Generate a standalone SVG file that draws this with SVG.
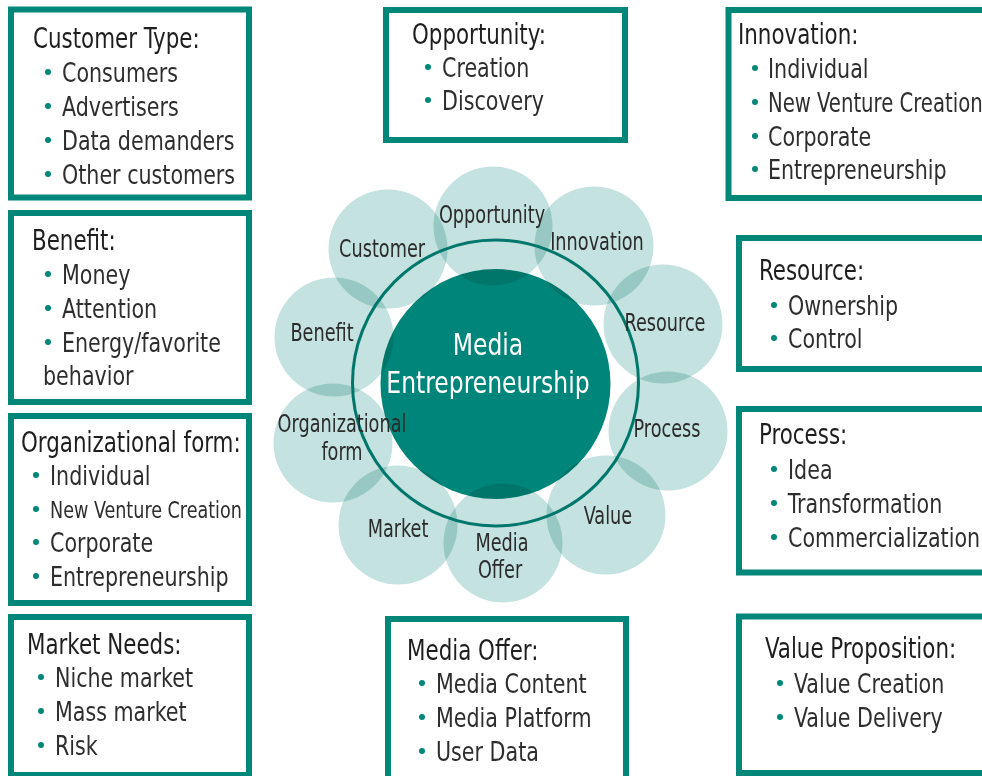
<svg xmlns="http://www.w3.org/2000/svg" width="982" height="776" viewBox="0 0 982 776">
<style>
.box{fill:#fff;stroke:#00877a;stroke-width:6}
.t{font-family:"Liberation Sans Narrow","DejaVu Sans Condensed","Liberation Sans",sans-serif;font-stretch:condensed;fill:#262626;transform-box:fill-box;transform-origin:left center;transform:scaleX(.85)}
.h{font-size:28px;fill:#1e1e1e}
.i{font-size:27px;fill:#2e2e2e}
.s{font-size:23px;fill:#2e2e2e}
.n{transform:scaleX(.81)}
.b{fill:#00877a}
.c{fill:#c4e2df;mix-blend-mode:multiply}
.cl{font-size:24px;fill:#2b2b2b;text-anchor:middle;transform-origin:center;transform:scaleX(.82)}
.ce{font-size:30px;fill:#fff;text-anchor:middle;transform-origin:center;transform:scaleX(.87)}
</style>
<rect width="982" height="776" fill="#fff"/>

<g id="box-customer-type">
<rect class="box" x="11" y="9.5" width="238" height="188"/>
<text class="t h" x="33" y="48">Customer Type:</text>
<circle class="b" cx="48" cy="72" r="3"/><text class="t i" x="62" y="82">Consumers</text>
<circle class="b" cx="48" cy="106" r="3"/><text class="t i" x="62" y="116">Advertisers</text>
<circle class="b" cx="48" cy="140" r="3"/><text class="t i" x="62" y="150">Data demanders</text>
<circle class="b" cx="48" cy="174" r="3"/><text class="t i" x="62" y="184">Other customers</text>
</g>

<g id="box-benefit">
<rect class="box" x="11" y="213" width="238" height="189"/>
<text class="t h" x="32" y="250">Benefit:</text>
<circle class="b" cx="48" cy="274" r="3"/><text class="t i" x="62" y="284">Money</text>
<circle class="b" cx="48" cy="308" r="3"/><text class="t i" x="62" y="318">Attention</text>
<circle class="b" cx="48" cy="342" r="3"/><text class="t i" x="62" y="352">Energy/favorite</text>
<text class="t i" x="43" y="385">behavior</text>
</g>

<g id="box-organizational-form">
<rect class="box" x="11" y="416" width="238" height="187"/>
<text class="t h" x="21" y="452">Organizational form:</text>
<circle class="b" cx="36" cy="475" r="3"/><text class="t i" x="50" y="485">Individual</text>
<circle class="b" cx="36" cy="509" r="3"/><text class="t s" x="50" y="518">New Venture Creation</text>
<circle class="b" cx="36" cy="542" r="3"/><text class="t i" x="50" y="552">Corporate</text>
<circle class="b" cx="36" cy="576" r="3"/><text class="t i" x="50" y="586">Entrepreneurship</text>
</g>

<g id="box-market-needs">
<rect class="box" x="11" y="617" width="238" height="158"/>
<text class="t h" x="27" y="654">Market Needs:</text>
<circle class="b" cx="41" cy="677" r="3"/><text class="t i" x="55" y="687">Niche market</text>
<circle class="b" cx="41" cy="711" r="3"/><text class="t i" x="55" y="721">Mass market</text>
<circle class="b" cx="41" cy="745" r="3"/><text class="t i" x="55" y="755">Risk</text>
</g>

<g id="box-opportunity">
<rect class="box" x="386" y="10" width="239" height="130"/>
<text class="t h" x="412" y="44">Opportunity:</text>
<circle class="b" cx="428" cy="67" r="3"/><text class="t i" x="442" y="77">Creation</text>
<circle class="b" cx="428" cy="100" r="3"/><text class="t i" x="442" y="110">Discovery</text>
</g>

<g id="box-innovation">
<rect class="box" x="728.5" y="10" width="270" height="188"/>
<text class="t h" x="738" y="44">Innovation:</text>
<circle class="b" cx="755" cy="68" r="3"/><text class="t i" x="768" y="78">Individual</text>
<circle class="b" cx="755" cy="102" r="3"/><text class="t i n" x="768" y="112">New Venture Creation</text>
<circle class="b" cx="755" cy="136" r="3"/><text class="t i" x="768" y="146">Corporate</text>
<circle class="b" cx="755" cy="169" r="3"/><text class="t i" x="768" y="179">Entrepreneurship</text>
</g>

<g id="box-resource">
<rect class="box" x="739" y="238" width="260" height="131"/>
<text class="t h" x="759" y="280">Resource:</text>
<circle class="b" cx="774" cy="305" r="3"/><text class="t i" x="788" y="315">Ownership</text>
<circle class="b" cx="774" cy="338" r="3"/><text class="t i" x="788" y="348">Control</text>
</g>

<g id="box-process">
<rect class="box" x="739" y="409" width="260" height="163.5"/>
<text class="t h" x="759" y="444">Process:</text>
<circle class="b" cx="774" cy="469" r="3"/><text class="t i" x="788" y="479">Idea</text>
<circle class="b" cx="774" cy="503" r="3"/><text class="t i" x="788" y="513">Transformation</text>
<circle class="b" cx="774" cy="537" r="3"/><text class="t i" x="788" y="547">Commercialization</text>
</g>

<g id="box-value-proposition">
<rect class="box" x="739" y="616.5" width="260" height="156.5"/>
<text class="t h" x="765" y="658">Value Proposition:</text>
<circle class="b" cx="780" cy="683" r="3"/><text class="t i" x="794" y="693">Value Creation</text>
<circle class="b" cx="780" cy="717" r="3"/><text class="t i" x="794" y="727">Value Delivery</text>
</g>

<g id="box-media-offer">
<rect class="box" x="388" y="619" width="238" height="170"/>
<text class="t h" x="407" y="660">Media Offer:</text>
<circle class="b" cx="422" cy="683" r="3"/><text class="t i" x="436" y="693">Media Content</text>
<circle class="b" cx="422" cy="717" r="3"/><text class="t i" x="436" y="727">Media Platform</text>
<circle class="b" cx="422" cy="751" r="3"/><text class="t i" x="436" y="761">User Data</text>
</g>

<g id="center-media-entrepreneurship">
<circle cx="495.5" cy="384" r="115" fill="#00857a"/>
</g>

<g id="petals">
<g id="node-opportunity"><circle class="c" cx="493" cy="226" r="59.5"/></g>
<g id="node-innovation"><circle class="c" cx="594" cy="246" r="59.5"/></g>
<g id="node-resource"><circle class="c" cx="663" cy="324" r="59.5"/></g>
<g id="node-process"><circle class="c" cx="668" cy="431" r="59.5"/></g>
<g id="node-value"><circle class="c" cx="606" cy="515" r="59.5"/></g>
<g id="node-media-offer"><circle class="c" cx="503" cy="543" r="59.5"/></g>
<g id="node-market"><circle class="c" cx="398" cy="525" r="59.5"/></g>
<g id="node-organizational-form"><circle class="c" cx="333" cy="443" r="59.5"/></g>
<g id="node-benefit"><circle class="c" cx="334" cy="337" r="59.5"/></g>
<g id="node-customer"><circle class="c" cx="388" cy="249" r="59.5"/></g>
</g>

<g id="connectors">
<circle cx="495.5" cy="383" r="143" fill="none" stroke="#00776c" stroke-width="3"/>
</g>

<g id="labels">
<text class="t cl" x="492" y="223">Opportunity</text>
<text class="t cl" x="382" y="257">Customer</text>
<text class="t cl" x="597" y="250">Innovation</text>
<text class="t cl" x="665" y="331">Resource</text>
<text class="t cl" x="322" y="341">Benefit</text>
<text class="t cl" x="667" y="437">Process</text>
<text class="t cl" x="342" y="432">Organizational</text>
<text class="t cl" x="342" y="460">form</text>
<text class="t cl" x="608" y="524">Value</text>
<text class="t cl" x="398" y="537">Market</text>
<text class="t cl" x="502" y="551">Media</text>
<text class="t cl" x="500" y="578">Offer</text>
<text class="t ce" x="488" y="355">Media</text>
<text class="t ce" x="488" y="393">Entrepreneurship</text>
</g>
</svg>
